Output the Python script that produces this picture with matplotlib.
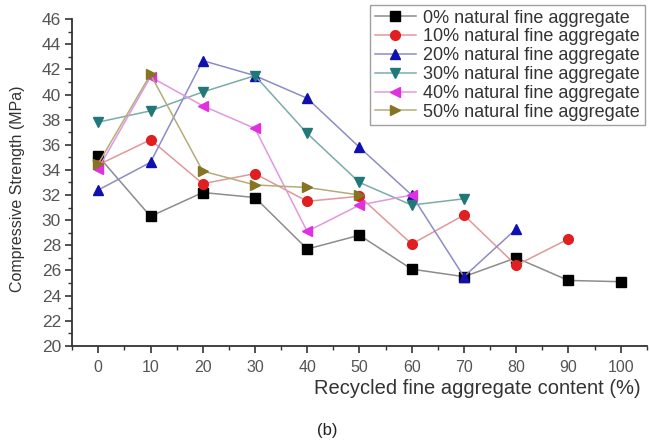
import matplotlib.pyplot as plt
from matplotlib.ticker import MultipleLocator

plt.rcParams['font.family'] = ['Liberation Sans', 'DejaVu Sans']

labels = ["0% natural fine aggregate", "10% natural fine aggregate",
          "20% natural fine aggregate", "30% natural fine aggregate",
          "40% natural fine aggregate", "50% natural fine aggregate"]

x0 = [0, 10, 20, 30, 40, 50, 60, 70, 80, 90, 100]
y0 = [35.1, 30.3, 32.2, 31.8, 27.7, 28.8, 26.1, 25.5, 27.0, 25.2, 25.1]

x10 = [0, 10, 20, 30, 40, 50, 60, 70, 80, 90]
y10 = [34.4, 36.4, 32.9, 33.7, 31.5, 31.9, 28.1, 30.4, 26.4, 28.5]

x20 = [0, 10, 20, 30, 40, 50, 60, 70, 80]
y20 = [32.4, 34.6, 42.7, 41.5, 39.7, 35.8, 32.0, 25.5, 29.3]

x30 = [0, 10, 20, 30, 40, 50, 60, 70]
y30 = [37.8, 38.7, 40.2, 41.5, 36.9, 33.0, 31.2, 31.7]

x40 = [0, 10, 20, 30, 40, 50, 60]
y40 = [34.1, 41.4, 39.1, 37.3, 29.1, 31.2, 32.0]

x50 = [0, 10, 20, 30, 40, 50]
y50 = [34.5, 41.6, 33.9, 32.8, 32.6, 32.0]

series = [(x0, y0), (x10, y10), (x20, y20), (x30, y30), (x40, y40), (x50, y50)]
markers = ['s', 'o', '^', 'v', '<', '>']
colors = ['#000000', '#e02020', '#1010b0', '#207878', '#e030e0', '#857520']
line_colors = ['#8c8c8c', '#e09898', '#8c8cc8', '#7aacac', '#e098e0', '#b4ac78']

fig = plt.figure(figsize=(6.5, 4.45), dpi=100)
ax = fig.add_axes([0.111, 0.223, 0.884, 0.734])

for (x, y), m, c, lc, lab in zip(series, markers, colors, line_colors, labels):
    ax.plot(x, y, color=lc, linewidth=1.1, marker=m, markersize=7,
            markerfacecolor=c, markeredgecolor=c, label=lab)

ax.set_xlim(-5, 105)
ax.set_ylim(20, 46)
ax.xaxis.set_major_locator(MultipleLocator(10))
ax.xaxis.set_minor_locator(MultipleLocator(5))
ax.yaxis.set_major_locator(MultipleLocator(2))
ax.yaxis.set_minor_locator(MultipleLocator(1))

for s in ['top', 'right']:
    ax.spines[s].set_visible(False)
for s in ['left', 'bottom']:
    ax.spines[s].set_color('#333333')
    ax.spines[s].set_linewidth(1.3)

ax.tick_params(which='major', direction='out', length=5, width=1.2,
               colors='#333333', labelcolor='#555555')
ax.tick_params(which='minor', direction='out', length=3, width=1.0, colors='#333333')
ax.tick_params(axis='x', pad=5, labelsize=11.5)
ax.tick_params(axis='y', pad=3, labelsize=12.5)

fig.text(477 / 650, 1 - 389 / 445, "Recycled fine aggregate content (%)",
         fontsize=14.5, color='#333333', ha='center', va='center')
fig.text(18 / 650, 1 - 189 / 445, "Compressive Strength (MPa)",
         fontsize=11.5, color='#333333', ha='center', va='center', rotation=90)

leg = ax.legend(loc='upper right', bbox_to_anchor=(0.9965, 1.043), fontsize=13,
                frameon=True, fancybox=False, handlelength=2.3, handletextpad=0.4,
                labelspacing=0.1, borderpad=0.25, borderaxespad=0,
                labelcolor='#333333')
leg.get_frame().set_edgecolor('#888888')
leg.get_frame().set_linewidth(1.0)

fig.text(327 / 650, 1 - 430 / 445, "(b)", fontsize=12, color='#222222',
         ha='center', va='center')

fig.savefig("out.png", dpi=100)
